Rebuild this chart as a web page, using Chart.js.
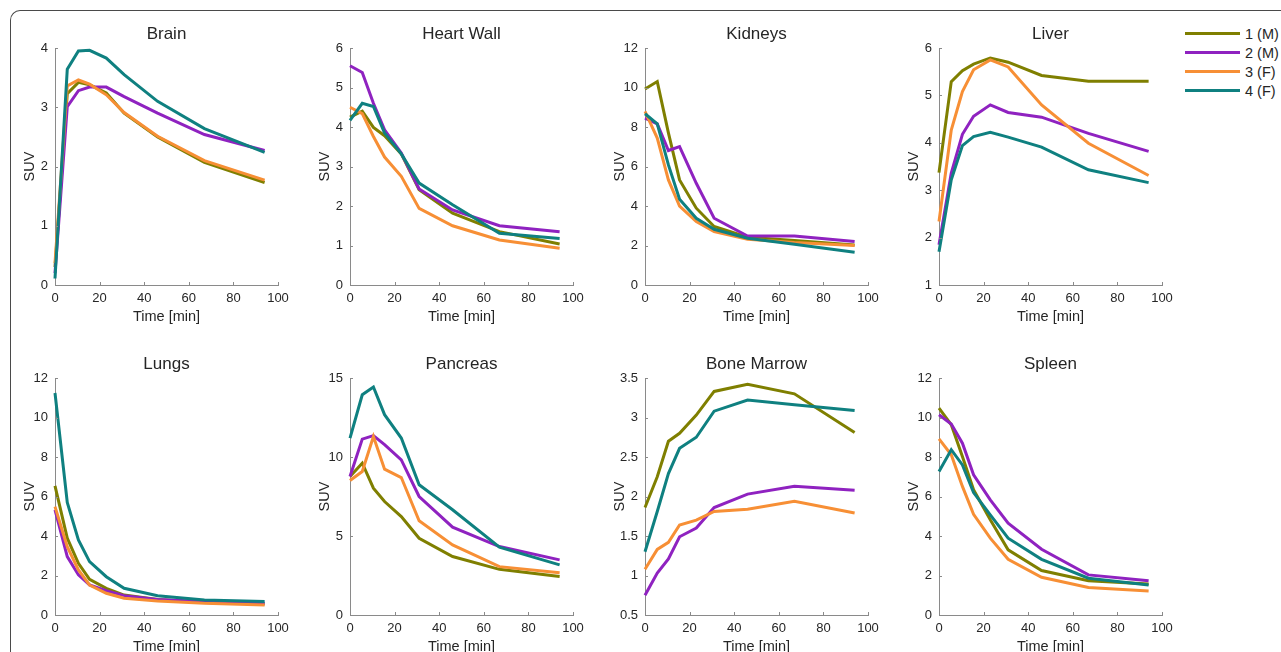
<!DOCTYPE html>
<html>
<head>
<meta charset="utf-8">
<script src="https://cdn.jsdelivr.net/npm/chart.js@4"></script>
<style>
  html, body { margin: 0; padding: 0; background: #fff; overflow: hidden; }
  body { width: 1281px; height: 652px; position: relative; font-family: "Liberation Sans", Arial, sans-serif; }
  .frame { position: absolute; left: 10px; top: 10px; width: 1400px; height: 800px;
           border-top: 1.5px solid #4a4a4a; border-left: 1.5px solid #4a4a4a;
           border-top-left-radius: 10px; box-sizing: border-box; }
  .panel { position: absolute; }
  #legend { position: absolute; left: 1185px; top: 24px; color: #262626; font-size: 14.5px; white-space: nowrap; }
  #legend .row { height: 19px; display: flex; align-items: center; }
  #legend .swatch { display: inline-block; width: 55px; height: 3px; margin-right: 5px; }
</style>
</head>
<body>
<div class="frame"></div>
<div id="legend"></div>

<script>
// sampling times (min)
const times = [0, 5.5, 10.5, 15.5, 23, 31, 46, 67, 94];

const subjects = ["1 (M)", "2 (M)", "3 (F)", "4 (F)"];
const colors = ["#7f7f00", "#8f22c0", "#f78f35", "#0f8080"];

const organs = ["Brain", "Heart Wall", "Kidneys", "Liver", "Lungs", "Pancreas", "Bone Marrow", "Spleen"];

// SUV per subject, in subjects order
const brain = [
  [0.3, 3.23, 3.42, 3.38, 3.24, 2.9, 2.5, 2.07, 1.73],
  [0.2, 3.01, 3.28, 3.34, 3.34, 3.18, 2.9, 2.54, 2.27],
  [0.37, 3.36, 3.46, 3.39, 3.21, 2.91, 2.51, 2.1, 1.77],
  [0.11, 3.64, 3.95, 3.96, 3.83, 3.55, 3.1, 2.64, 2.24]
];
const heartWall = [
  [4.25, 4.4, 3.99, 3.78, 3.32, 2.41, 1.82, 1.35, 1.04],
  [5.55, 5.38, 4.6, 3.93, 3.34, 2.43, 1.9, 1.5, 1.35],
  [4.5, 4.34, 3.76, 3.24, 2.75, 1.94, 1.5, 1.14, 0.93],
  [4.17, 4.6, 4.52, 3.85, 3.32, 2.58, 2.03, 1.31, 1.18]
];
const kidneys = [
  [9.92, 10.3, 7.7, 5.32, 3.89, 2.96, 2.42, 2.25, 2.03],
  [8.45, 8.16, 6.81, 7.01, 5.15, 3.38, 2.48, 2.48, 2.2],
  [8.79, 7.44, 5.32, 4.0, 3.21, 2.7, 2.32, 2.15, 2.0],
  [8.67, 8.16, 6.08, 4.34, 3.38, 2.82, 2.37, 2.06, 1.66]
];
const liver = [
  [3.37, 5.29, 5.52, 5.66, 5.79, 5.7, 5.42, 5.3, 5.3],
  [1.85, 3.36, 4.18, 4.56, 4.8, 4.64, 4.54, 4.2, 3.82],
  [2.34, 4.27, 5.08, 5.54, 5.75, 5.6, 4.8, 3.99, 3.31],
  [1.7, 3.22, 3.94, 4.13, 4.22, 4.12, 3.91, 3.43, 3.16]
];
const lungs = [
  [6.54, 3.89, 2.62, 1.81, 1.35, 1.01, 0.79, 0.63, 0.56],
  [5.32, 2.96, 2.03, 1.52, 1.23, 0.98, 0.79, 0.68, 0.59],
  [5.49, 3.46, 2.28, 1.52, 1.1, 0.85, 0.71, 0.59, 0.51],
  [11.24, 5.7, 3.8, 2.7, 1.94, 1.35, 0.98, 0.76, 0.68]
];
const pancreas = [
  [8.77, 9.61, 8.03, 7.18, 6.23, 4.86, 3.7, 2.89, 2.43],
  [8.77, 11.13, 11.35, 10.78, 9.82, 7.5, 5.56, 4.33, 3.49],
  [8.51, 9.08, 11.3, 9.23, 8.7, 5.96, 4.44, 3.06, 2.68],
  [11.2, 13.94, 14.43, 12.68, 11.2, 8.24, 6.66, 4.29, 3.17]
];
const boneMarrow = [
  [1.86, 2.25, 2.7, 2.8, 3.03, 3.33, 3.42, 3.3, 2.81],
  [0.75, 1.03, 1.21, 1.49, 1.6, 1.86, 2.03, 2.13, 2.08],
  [1.08, 1.33, 1.42, 1.64, 1.7, 1.81, 1.84, 1.94, 1.79],
  [1.3, 1.81, 2.29, 2.61, 2.75, 3.08, 3.22, 3.16, 3.09]
];
const spleen = [
  [10.48, 9.63, 8.03, 6.34, 4.82, 3.3, 2.25, 1.74, 1.57],
  [10.14, 9.67, 8.7, 7.1, 5.83, 4.65, 3.33, 2.03, 1.74],
  [8.92, 8.11, 6.51, 5.1, 3.89, 2.82, 1.91, 1.39, 1.22],
  [7.27, 8.37, 7.6, 6.2, 5.07, 3.89, 2.82, 1.86, 1.52]
];

// y axis ranges [min, max, step] for each organ
const yMin = [0, 0, 0, 1, 0, 0, 0.5, 0];
const yMax = [4, 6, 12, 6, 12, 15, 3.5, 12];
const yStep = [1, 1, 2, 1, 2, 5, 0.5, 2];

const seriesByOrgan = [brain, heartWall, kidneys, liver, lungs, pancreas, boneMarrow, spleen];

// layout of the plot areas
const plotLefts = [55, 350, 645, 939];
const plotTops = [48, 378];
const PW = 223, PH = 237;
const PAD_L = 50, PAD_T = 45, PAD_R = 20, PAD_B = 40;

const textColor = "#262626";
const axisColor = "#8a8a8a";
const fontFamily = "'Liberation Sans', Arial, sans-serif";

// legend
const legendDiv = document.getElementById("legend");
subjects.forEach((s, i) => {
  const row = document.createElement("div");
  row.className = "row";
  row.innerHTML = `<span class="swatch" style="background:${colors[i]}"></span><span>${s}</span>`;
  legendDiv.appendChild(row);
});

// draws panel title, axis labels and inward tick marks
const decorPlugin = {
  id: "decor",
  afterDraw(chart, args, opts) {
    const { ctx, chartArea } = chart;
    const xs = chart.scales.x, ys = chart.scales.y;
    ctx.save();
    ctx.strokeStyle = axisColor;
    ctx.lineWidth = 1;
    ctx.beginPath();
    xs.ticks.forEach((t) => {
      const px = Math.round(xs.getPixelForValue(t.value)) + 0.5;
      ctx.moveTo(px, chartArea.bottom);
      ctx.lineTo(px, chartArea.bottom - 3);
    });
    ys.ticks.forEach((t) => {
      const py = Math.round(ys.getPixelForValue(t.value)) + 0.5;
      ctx.moveTo(chartArea.left, py);
      ctx.lineTo(chartArea.left + 3, py);
    });
    ctx.stroke();

    ctx.fillStyle = textColor;
    ctx.textAlign = "center";
    ctx.textBaseline = "middle";
    const cx = (chartArea.left + chartArea.right) / 2;
    ctx.font = `17px ${fontFamily}`;
    ctx.fillText(opts.title, cx, chartArea.top - 14);
    ctx.font = `14.5px ${fontFamily}`;
    ctx.fillText("Time [min]", cx, chartArea.bottom + 32);
    ctx.translate(chartArea.left - 25, (chartArea.top + chartArea.bottom) / 2);
    ctx.rotate(-Math.PI / 2);
    ctx.fillText("SUV", 0, 0);
    ctx.restore();
  }
};

organs.forEach((organ, k) => {
  const col = k % 4, row = Math.floor(k / 4);
  const canvas = document.createElement("canvas");
  canvas.className = "panel";
  const w = PAD_L + PW + PAD_R, h = PAD_T + PH + PAD_B;
  canvas.style.left = (plotLefts[col] - PAD_L) + "px";
  canvas.style.top = (plotTops[row] - PAD_T) + "px";
  canvas.style.width = w + "px";
  canvas.style.height = h + "px";
  canvas.width = w;
  canvas.height = h;
  document.body.appendChild(canvas);

  const data = seriesByOrgan[k];
  new Chart(canvas, {
    type: "line",
    data: {
      datasets: subjects.map((s, i) => ({
        label: s,
        data: times.map((t, j) => ({ x: t, y: data[i][j] })),
        borderColor: colors[i],
        borderWidth: 3,
        pointRadius: 0,
        tension: 0,
        fill: false,
        clip: false,
        order: subjects.length - i
      }))
    },
    options: {
      responsive: false,
      animation: false,
      layout: { padding: { left: 0, top: PAD_T, right: PAD_R, bottom: 0 } },
      plugins: {
        legend: { display: false },
        tooltip: { enabled: false },
        decor: { title: organ }
      },
      scales: {
        x: {
          type: "linear",
          min: 0, max: 100,
          afterFit: (scale) => { scale.height = PAD_B; },
          grid: { display: false, drawTicks: false },
          border: { display: true, color: axisColor, width: 1 },
          ticks: { stepSize: 20, padding: 6, color: textColor, font: { family: fontFamily, size: 13 }, maxRotation: 0 }
        },
        y: {
          type: "linear",
          min: yMin[k], max: yMax[k],
          afterFit: (scale) => { scale.width = PAD_L; },
          grid: { display: false, drawTicks: false },
          border: { display: true, color: axisColor, width: 1 },
          ticks: {
            stepSize: yStep[k], padding: 7, color: textColor, font: { family: fontFamily, size: 13 },
            callback: (v) => String(+v.toFixed(2))
          }
        }
      }
    },
    plugins: [decorPlugin]
  });
});
</script>
</body>
</html>
